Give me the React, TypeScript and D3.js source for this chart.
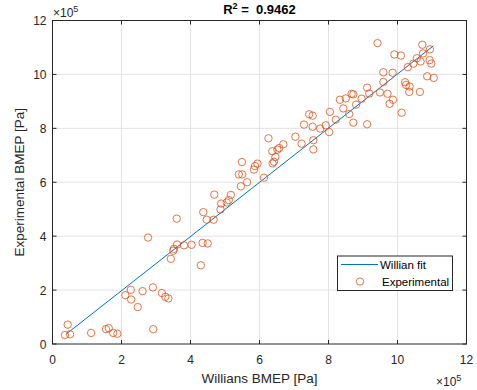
import React from "react";
import * as d3 from "d3";

// values in units of 1e5 Pa
const williansX: number[] = [
  0.36, 0.51, 0.44, 1.12, 1.55, 1.63, 1.76, 1.88, 2.92, 2.11, 2.27, 2.28, 2.47, 2.61, 2.91, 3.17, 3.27, 3.36,
  2.77, 3.6, 3.43, 3.5, 3.52, 3.61, 3.81, 4.03, 4.35, 4.5, 4.3, 4.37, 4.47, 4.67, 4.69, 4.87, 4.89, 5.05,
  5.11, 5.17, 5.46, 5.4, 5.5, 5.49, 5.64, 5.84, 5.87, 5.94, 6.13, 6.26, 6.37, 6.38, 6.42, 6.46, 6.52, 6.57,
  6.69, 7.04, 7.22, 7.29, 7.44, 7.54, 7.54, 7.56, 7.56, 7.76, 7.92, 8.02, 8.04, 8.21, 8.33, 8.43, 8.5, 8.6,
  8.67, 8.72, 8.72, 8.8, 8.96, 9.12, 9.18, 9.12, 9.42, 9.49, 9.59, 9.59, 9.71, 9.77, 9.87, 9.86, 9.91, 10.1,
  10.12, 10.22, 10.25, 10.35, 10.34, 10.65, 10.3, 10.46, 10.56, 10.67, 10.72, 10.74, 10.94, 10.93, 10.98,
  10.86, 11.05,
];
const experimentalY: number[] = [
  0.33, 0.36, 0.72, 0.41, 0.55, 0.59, 0.41, 0.38, 0.55, 1.81, 2.01, 1.65, 1.37, 1.96, 2.1, 1.89, 1.75, 1.69,
  3.95, 4.65, 3.16, 3.46, 3.53, 3.69, 3.66, 3.68, 3.75, 3.73, 2.92, 4.89, 4.61, 4.61, 5.54, 4.99, 5.21, 5.25,
  5.34, 5.53, 5.85, 6.29, 6.29, 6.75, 6.0, 6.47, 6.6, 6.69, 6.17, 7.63, 7.15, 6.7, 6.76, 6.94, 7.21, 7.27,
  7.41, 7.69, 7.43, 8.14, 8.52, 8.47, 8.06, 7.56, 7.22, 7.99, 8.11, 7.86, 8.61, 8.32, 9.06, 8.74, 9.11, 8.53,
  9.28, 9.26, 8.21, 8.88, 9.1, 9.51, 9.29, 8.15, 11.16, 9.33, 10.08, 9.72, 9.28, 8.91, 9.06, 10.06, 10.74, 10.7,
  8.58, 9.71, 9.61, 9.55, 9.35, 9.35, 10.27, 10.4, 10.6, 10.48, 11.1, 10.78, 10.93, 10.53, 10.4,
  9.93, 9.87,
];
const fitX: number[] = [0.41, 11.04];
const fitY: number[] = [0.38, 11.06];
const xTicks: number[] = [0, 2, 4, 6, 8, 10, 12];
const yTicks: number[] = [0, 2, 4, 6, 8, 10, 12];
const titleText = "0.9462";
const seriesNames: string[] = ["Willian fit", "Experimental"];

const W = 477;
const H = 390;
const L = 52.5, R = 466.5, T = 20.5, B = 344;
const FONT = "'Liberation Sans', Arial, Helvetica, sans-serif";
const AX = "#262626";
const ORANGE = "#D95319";
const BLUE = "#0072BD";

export default function App() {
  const x = d3.scaleLinear().domain([0, 12]).range([L, R]);
  const y = d3.scaleLinear().domain([0, 12]).range([B, T]);
  const line = d3.line<number>().x((d) => x(fitX[d])).y((d) => y(fitY[d]));
  const tk = 4;
  return (
    <svg width={W} height={H} style={{ position: "absolute", left: 0, top: 0, background: "#fff" }} fontFamily={FONT}>
      <rect x={0} y={0} width={W} height={H} fill="#fff" />
      {/* grid */}
      {xTicks.slice(1, -1).map((t) => (
        <line key={"gx" + t} x1={x(t)} x2={x(t)} y1={T} y2={B} stroke="#e3e3e3" strokeWidth={1} />
      ))}
      {yTicks.slice(1, -1).map((t) => (
        <line key={"gy" + t} x1={L} x2={R} y1={y(t)} y2={y(t)} stroke="#e3e3e3" strokeWidth={1} />
      ))}
      {/* fit line */}
      <path d={line(fitX.map((_, i) => i)) || ""} fill="none" stroke={BLUE} strokeWidth={1} />
      {/* points */}
      {williansX.map((v, i) => (
        <circle key={i} cx={x(v)} cy={y(experimentalY[i])} r={3.7} fill="none" stroke={ORANGE} strokeWidth={0.8} />
      ))}
      {/* box */}
      <rect x={L} y={T} width={R - L} height={B - T} fill="none" stroke={AX} strokeWidth={1} />
      {/* ticks */}
      {xTicks.map((t) => (
        <g key={"tx" + t}>
          <line x1={x(t)} x2={x(t)} y1={B} y2={B - tk} stroke={AX} />
          <line x1={x(t)} x2={x(t)} y1={T} y2={T + tk} stroke={AX} />
          <text x={x(t)} y={B + 20} textAnchor="middle" fontSize={12} fill={AX}>{t}</text>
        </g>
      ))}
      {yTicks.map((t) => (
        <g key={"ty" + t}>
          <line x1={L} x2={L + tk} y1={y(t)} y2={y(t)} stroke={AX} />
          <line x1={R} x2={R - tk} y1={y(t)} y2={y(t)} stroke={AX} />
          <text x={L - 6} y={y(t) + 4.5} textAnchor="end" fontSize={12} fill={AX}>{t}</text>
        </g>
      ))}
      {/* exponents */}
      <text x={53} y={17} fontSize={12} fill={AX}>
        ×10<tspan dy={-5} fontSize={9}>5</tspan>
      </text>
      <text x={436} y={386} fontSize={12} fill={AX}>
        ×10<tspan dy={-5} fontSize={9}>5</tspan>
      </text>
      {/* title */}
      <text x={(L + R) / 2} y={14} textAnchor="middle" fontSize={13} fontWeight="bold" fill="#000" style={{ whiteSpace: "pre" }}>
        R<tspan dy={-5} fontSize={9}>2</tspan><tspan dy={5}>{" =\u00a0\u00a0" + titleText}</tspan>
      </text>
      {/* axis labels */}
      <text x={(L + R) / 2} y={383} textAnchor="middle" fontSize={13.5} fill={AX}>Willians BMEP [Pa]</text>
      <text transform={`translate(24,${(T + B) / 2}) rotate(-90)`} textAnchor="middle" fontSize={13.5} fill={AX}>
        Experimental BMEP [Pa]
      </text>
      {/* legend */}
      <g>
        <rect x={337.5} y={256} width={115} height={34.5} fill="#fff" stroke={AX} strokeWidth={1} />
        <line x1={341} x2={378} y1={264.5} y2={264.5} stroke={BLUE} strokeWidth={1} />
        <text x={380} y={268.5} fontSize={11.5} fill="#000">{seriesNames[0]}</text>
        <circle cx={360} cy={281.5} r={3.7} fill="none" stroke={ORANGE} strokeWidth={0.8} />
        <text x={382} y={285.5} fontSize={11.5} fill="#000">{seriesNames[1]}</text>
      </g>
    </svg>
  );
}
